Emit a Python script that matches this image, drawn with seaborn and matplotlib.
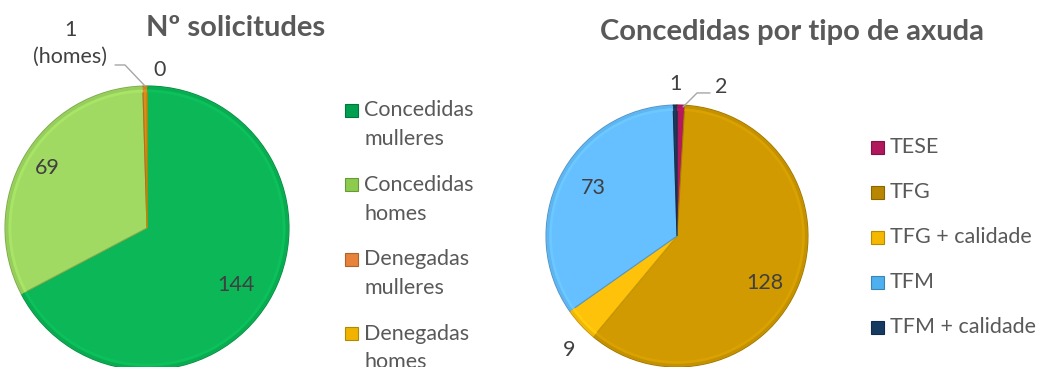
import matplotlib
matplotlib.use("Agg")
import matplotlib.pyplot as plt
import matplotlib.colors as mcolors
from matplotlib.patches import Rectangle
import seaborn as sns

# ---- data -------------------------------------------------------------
sol_categories = ["Concedidas\nmulleres", "Concedidas\nhomes",
                  "Denegadas\nmulleres", "Denegadas\nhomes"]
sol_values = [144, 69, 1, 0]
sol_labels = ["144", "69", "1\n(homes)", "0"]

tipo_categories = ["TESE", "TFG", "TFG + calidade", "TFM", "TFM + calidade"]
tipo_values = [2, 128, 9, 73, 1]
tipo_labels = ["2", "128", "9", "73", "1"]

# ---- style ------------------------------------------------------------
sns.set_theme(style="white")
plt.rcParams["font.family"] = ["Lato", "DejaVu Sans"]

sol_colors = ["#0BB757", "#A0DA62", "#E0891C", "#F2BC00"]
sol_legend_colors = ["#00A050", "#8CCB4E", "#E8823A", "#F0B400"]
tipo_colors = ["#B5175E", "#D09A00", "#FFC20A", "#66BFFF", "#1B3A5C"]
tipo_legend_colors = ["#B0175C", "#B88600", "#F5B800", "#4FB0F0", "#173A60"]

TITLE_C = "#595959"
LEGEND_C = "#595959"
LABEL_C = "#404040"
TEXT_SIZE = 15.5
TITLE_SIZE = 21

W, H = 1038, 367
fig = plt.figure(figsize=(W / 100, H / 100), dpi=100)


def px_axes(cx, cy, r):
    """Square axes centred on pixel (cx, cy) with pixel radius r."""
    return fig.add_axes([(cx - r) / W, (H - cy - r) / H, 2 * r / W, 2 * r / H])


def shade(c, f):
    rgb = mcolors.to_rgb(c)
    return tuple(max(0, min(1, v * f)) for v in rgb)


def draw_pie(ax, values, colors):
    wedges, _ = ax.pie(values, colors=colors, startangle=90, counterclock=False,
                       radius=1.0, wedgeprops=dict(linewidth=0.8,
                                                   edgecolor="none"))
    for w, c in zip(wedges, colors):
        w.set_edgecolor(shade(c, 0.8))
    # subtle bevel along the outer edge
    ax.pie(values, colors=[shade(c, 0.94) for c in colors], startangle=90,
           counterclock=False, radius=0.995,
           wedgeprops=dict(width=0.02, linewidth=0))
    ax.pie(values, colors=[shade(c, 1.05) for c in colors], startangle=90,
           counterclock=False, radius=0.975,
           wedgeprops=dict(width=0.02, linewidth=0))
    ax.set_xlim(-1, 1)
    ax.set_ylim(-1, 1)
    ax.set_aspect("equal")
    ax.axis("off")
    return wedges


def legend_entry(x, y, label, color, line_gap=29):
    """Bevelled square marker plus (possibly two-line) label at pixel coords."""
    fig.patches.append(Rectangle((x / W, 1 - (y + 6.5) / H), 13 / W, 13 / H,
                                 transform=fig.transFigure, facecolor=color,
                                 edgecolor=shade(color, 0.75), linewidth=0.8))
    for k, line in enumerate(label.split("\n")):
        fig.text((x + 19) / W, 1 - (y + k * line_gap) / H, line, ha="left",
                 va="center", fontsize=TEXT_SIZE, color=LEGEND_C)


# ---- left pie: Nº solicitudes -----------------------------------------
axL = px_axes(147, 228, 142)
draw_pie(axL, sol_values, sol_colors)
sol_label_pos = [(0.63, -0.40), (-0.70, 0.42), (-0.54, 1.30), (0.09, 1.11)]
for txt, (x, y) in zip(sol_labels, sol_label_pos):
    axL.text(x, y, txt, ha="center", va="center", fontsize=TEXT_SIZE,
             color=LABEL_C, linespacing=1.4)
axL.plot([-0.225, -0.155, -0.014], [1.148, 1.148, 1.0], color="#A6A6A6",
         lw=1, clip_on=False)

fig.text(236 / W, 1 - 28 / H, "Nº solicitudes", ha="center", va="center",
         fontsize=TITLE_SIZE, fontweight="bold", color=TITLE_C)

for i, (lab, col) in enumerate(zip(sol_categories, sol_legend_colors)):
    legend_entry(345, 110 + i * 74.5, lab, col)

# ---- right pie: Concedidas por tipo de axuda --------------------------
axR = px_axes(677, 236, 131)
draw_pie(axR, tipo_values, tipo_colors)
tipo_label_pos = [(0.34, 1.14), (0.67, -0.36), (-0.82, -0.87),
                  (-0.64, 0.37), (-0.01, 1.16)]
for txt, (x, y) in zip(tipo_labels, tipo_label_pos):
    axR.text(x, y, txt, ha="center", va="center", fontsize=TEXT_SIZE,
             color=LABEL_C)
axR.plot([0.046, 0.153, 0.252], [0.985, 1.092, 1.092], color="#A6A6A6",
         lw=1, clip_on=False)

fig.text(792 / W, 1 - 32 / H, "Concedidas por tipo de axuda", ha="center",
         va="center", fontsize=TITLE_SIZE, fontweight="bold", color=TITLE_C)

for i, (lab, col) in enumerate(zip(tipo_categories, tipo_legend_colors)):
    legend_entry(871, 147 + i * 45, lab, col)

fig.savefig("out.png", dpi=100, facecolor="white")
